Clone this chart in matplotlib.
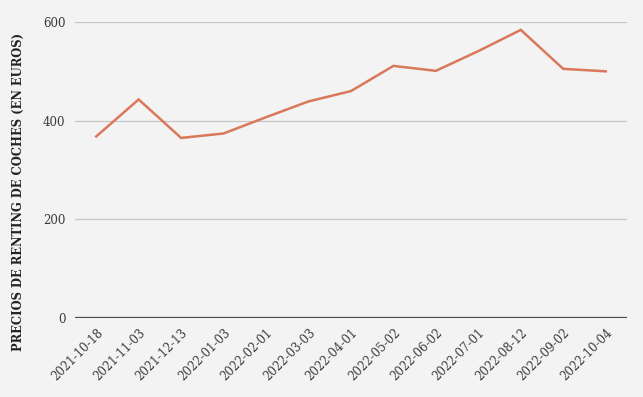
import numpy as np
import matplotlib.pyplot as plt

# fechas y precios de renting (euros)
fechas = ['2021-10-18', '2021-11-03', '2021-12-13', '2022-01-03', '2022-02-01',
          '2022-03-03', '2022-04-01', '2022-05-02', '2022-06-02', '2022-07-01',
          '2022-08-12', '2022-09-02', '2022-10-04']
precios = [368, 443, 365, 374, 407, 439, 460, 511, 501, 541, 584, 505, 500]
yticks = [0, 200, 400, 600]

bg = '#f3f3f3'
plt.rcParams['font.family'] = 'DejaVu Serif'

fig = plt.figure(figsize=(6.43, 3.97), dpi=100, facecolor=bg)
ax = fig.add_axes([0.1166, 0.199, 0.8584, 0.7456])
ax.set_facecolor(bg)

x = np.arange(len(fechas))
ax.plot(x, precios, color='#d9785a', lw=1.8, solid_joinstyle='miter', zorder=3)

ax.set_xlim(-0.5, len(fechas) - 0.5)
ax.set_ylim(0, 600)
ax.set_yticks(yticks)
ax.set_yticklabels([str(v) for v in yticks])
ax.yaxis.grid(True, color='#c6c6c6', lw=0.9)
ax.set_axisbelow(True)
ax.axhline(0, color='#4a4a4a', lw=1.6, zorder=2)

for s in ax.spines.values():
    s.set_visible(False)

ax.set_xticks(x)
ax.set_xticklabels(fechas, rotation=45, ha='right', rotation_mode='anchor')
ax.tick_params(axis='both', length=0, labelsize=8.5, labelcolor='#3a3a3a')
ax.tick_params(axis='x', pad=6)
ax.tick_params(axis='y', pad=7)

fig.text(0.028, 0.516, 'PRECIOS DE RENTING DE COCHES (EN EUROS)', rotation=90,
         ha='center', va='center', fontsize=8.3, fontweight='bold', color='#222222')

fig.savefig('out.png', dpi=100, facecolor=bg)
